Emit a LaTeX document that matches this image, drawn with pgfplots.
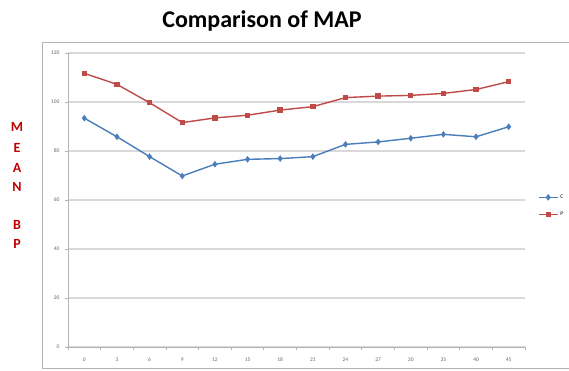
\documentclass[border=0pt]{standalone}
\usepackage{pgfplots}
\pgfplotsset{compat=1.18}
\usepackage{fontspec}
\setmainfont{Carlito}
\definecolor{cblue}{RGB}{74,126,187}
\definecolor{cred}{RGB}{190,75,72}
\definecolor{ylab}{RGB}{192,0,0}
\definecolor{gridc}{RGB}{217,217,217}
\definecolor{axc}{RGB}{180,180,180}
\begin{document}
\begin{tikzpicture}[x=1pt,y=1pt]
\path[use as bounding box] (0,0) rectangle (569,370);
\draw[color=axc, line width=1pt] (42,2) rectangle (580,327);
\node[font=\bfseries\fontsize{24}{28}\selectfont, anchor=base] at (262,342) {Comparison of MAP};
\foreach \l/\yy in {M/127,E/148,A/168,N/187,B/225,P/244}{
  \node[font=\bfseries\fontsize{14}{16}\selectfont, text=ylab] at (17,370-\yy) {\l};
}
\begin{axis}[
  at={(68pt,23pt)}, anchor=south west,
  scale only axis, width=457pt, height=294pt,
  xmin=-0.5, xmax=13.5, ymin=0, ymax=120,
  axis x line*=bottom, axis y line*=left,
  axis line style={color=axc, line width=1pt},
  xtick={0,1,2,3,4,5,6,7,8,9,10,11,12,13},
  xticklabels={0,3,6,9,12,15,18,21,24,27,30,35,40,45},
  minor xtick={-0.5,0.5,...,13.5},
  ytick={0,20,...,120},
  major x tick style={draw=none},
  minor tick length=3pt, major tick length=3pt,
  tick align=outside,
  every tick/.style={color=axc, line width=0.8pt},
  ymajorgrids, grid style={color=gridc, line width=1.3pt},
  tick label style={font=\fontsize{5.5}{6}\selectfont, text=black!60},
  /pgf/number format/assume math mode=true,
  xticklabel style={yshift=-4pt},
  yticklabel style={xshift=-2pt},
  legend style={at={(1.028,0.48)}, anchor=west, draw=none, fill=none,
    font=\fontsize{5.5}{6}\selectfont, inner sep=0pt, row sep=8pt,
    legend cell align=left},
  legend image code/.code={
    \draw[mark repeat=2,mark phase=2] plot coordinates {(0pt,0pt) (9.5pt,0pt) (19pt,0pt)};
  },
]
\addplot[color=cblue, line width=1.4pt, mark=diamond*, mark size=2.2pt] coordinates {
(0,93.4) (1,85.8) (2,77.7) (3,69.8) (4,74.6) (5,76.6) (6,76.9) (7,77.7) (8,82.7) (9,83.7) (10,85.2) (11,86.8) (12,85.8) (13,89.9)};
\addlegendentry{C}
\addplot[color=cred, line width=1.4pt, mark=square*, mark size=2pt] coordinates {
(0,111.7) (1,107.2) (2,99.7) (3,91.6) (4,93.5) (5,94.6) (6,96.7) (7,98.1) (8,101.8) (9,102.4) (10,102.7) (11,103.5) (12,105.1) (13,108.3)};
\addlegendentry{P}
\end{axis}
\end{tikzpicture}
\end{document}
